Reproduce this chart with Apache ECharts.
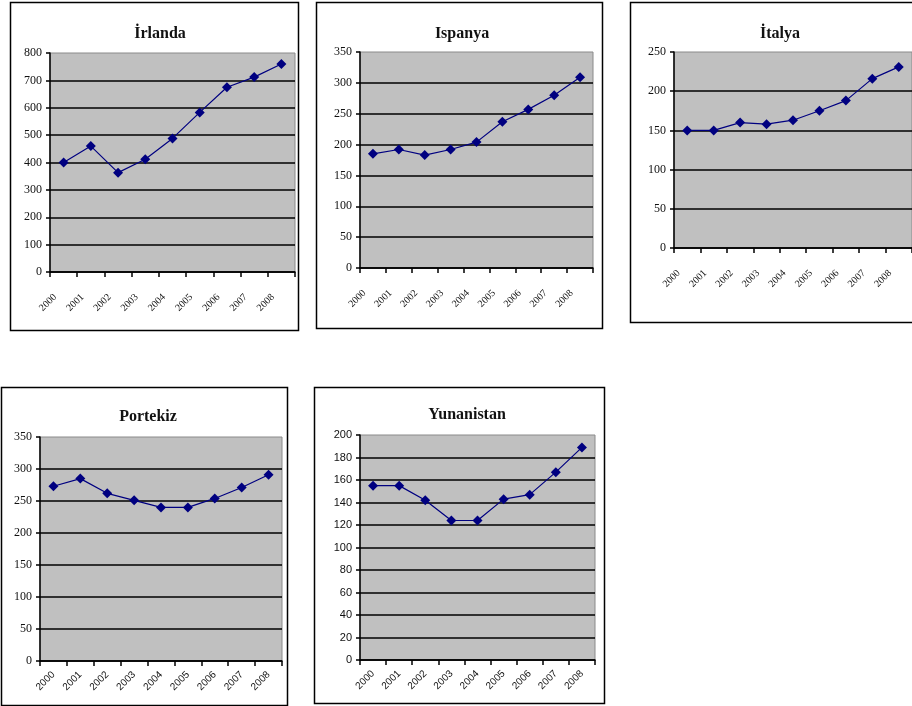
<!DOCTYPE html>
<html>
<head>
<meta charset="utf-8">
<script src="https://cdn.jsdelivr.net/npm/echarts@6/dist/echarts.min.js"></script>
<style>
  html, body { margin: 0; padding: 0; background: #fff; }
  #chart { width: 912px; height: 706px; }
</style>
</head>
<body>
<div id="chart"></div>
<script>
// Years on the category axis
const years = ['2000', '2001', '2002', '2003', '2004', '2005', '2006', '2007', '2008'];

// One series per country
const irlanda    = [400, 460, 363, 412, 488, 583, 675, 712, 760];
const ispanya    = [185, 192, 183, 192, 204, 237, 257, 280, 309];
const italya     = [150, 150, 160, 158, 163, 175, 188, 216, 231];
const portekiz   = [273, 285, 262, 251, 240, 240, 254, 271, 291];
const yunanistan = [155, 155, 142, 124, 124, 143, 147, 167, 189];

// Panel titles
const titles = ['İrlanda', 'Ispanya', 'İtalya', 'Portekiz', 'Yunanistan'];

// Value-axis ranges (max, step)
const axisMax  = [800, 350, 250, 350, 200];
const axisStep = [100, 50, 50, 50, 20];

const seriesData = [irlanda, ispanya, italya, portekiz, yunanistan];

// Layout of each small chart: frame, plot area, title centre, fonts
const layout = [
  { frame: [10, 2, 288, 328],  grid: [50, 53, 295, 272],  title: [155, 21],
    yFont: 'Liberation Serif', yFs: 12, xFont: 'Liberation Serif', xFs: 10, shifted: true },
  { frame: [316, 2, 286, 326], grid: [360, 52, 593, 268], title: [457, 21],
    yFont: 'Liberation Serif', yFs: 12, xFont: 'Liberation Serif', xFs: 10, shifted: true },
  { frame: [630, 2, 300, 320], grid: [674, 52, 912, 248], title: [775, 21],
    yFont: 'Liberation Serif', yFs: 12, xFont: 'Liberation Serif', xFs: 10, shifted: true },
  { frame: [1, 387, 286, 318], grid: [40, 437, 282, 661], title: [143, 404],
    yFont: 'Liberation Serif', yFs: 12, xFont: 'Liberation Sans', xFs: 10, shifted: false },
  { frame: [314, 387, 290, 316], grid: [360, 435, 595, 660], title: [462, 402],
    yFont: 'Liberation Sans', yFs: 11, xFont: 'Liberation Sans', xFs: 10, shifted: false }
];

const W = 912, H = 706;
const textColor = '#111111';
const navy = '#000080';

const option = {
  animation: false,
  backgroundColor: '#ffffff',
  title: [], grid: [], xAxis: [], yAxis: [], series: [], graphic: []
};

layout.forEach((p, i) => {
  // outer frame of the small chart
  option.graphic.push({
    type: 'rect', z: -1, silent: true,
    shape: { x: p.frame[0] + 0.5, y: p.frame[1] + 0.5, width: p.frame[2], height: p.frame[3] },
    style: { fill: '#ffffff', stroke: '#000000', lineWidth: 1.5 }
  });

  option.title.push({
    text: titles[i],
    left: p.title[0], top: p.title[1], textAlign: 'center',
    textStyle: { fontFamily: 'Liberation Serif', fontWeight: 'bold', fontSize: 16, color: '#111' }
  });

  option.grid.push({
    left: p.grid[0], top: p.grid[1],
    width: p.grid[2] - p.grid[0], height: p.grid[3] - p.grid[1],
    show: true, backgroundColor: '#c0c0c0', borderColor: '#8a8a8a', borderWidth: 1,
    containLabel: false
  });

  option.xAxis.push({
    type: 'category', gridIndex: i, data: years, boundaryGap: true,
    axisLine: { lineStyle: { color: '#000', width: 1.5 } },
    axisTick: { show: true, length: 5, inside: false, lineStyle: { color: '#000', width: 1.5 } },
    axisLabel: {
      interval: 0, rotate: 45, color: textColor,
      fontFamily: p.xFont, fontSize: p.xFs,
      margin: p.shifted ? 15 : 12,
      padding: p.shifted ? [0, 12, 0, 0] : 0
    },
    splitLine: { show: false }
  });

  option.yAxis.push({
    type: 'value', gridIndex: i, min: 0, max: axisMax[i], interval: axisStep[i],
    axisLine: { show: true, lineStyle: { color: '#000', width: 1.5 } },
    axisTick: { show: true, length: 4, lineStyle: { color: '#000', width: 1.5 } },
    axisLabel: { color: textColor, fontFamily: p.yFont, fontSize: p.yFs, margin: 8 },
    splitLine: { show: true, showMaxLine: false, lineStyle: { color: '#000', width: 1.5 } }
  });

  option.series.push({
    type: 'line', xAxisIndex: i, yAxisIndex: i, data: seriesData[i],
    symbol: 'diamond', symbolSize: 10,
    lineStyle: { color: navy, width: 1.2 },
    itemStyle: { color: navy },
    emphasis: { disabled: true }
  });
});

const chart = echarts.init(document.getElementById('chart'), null, { renderer: 'canvas', width: W, height: H });
chart.setOption(option);
</script>
</body>
</html>
